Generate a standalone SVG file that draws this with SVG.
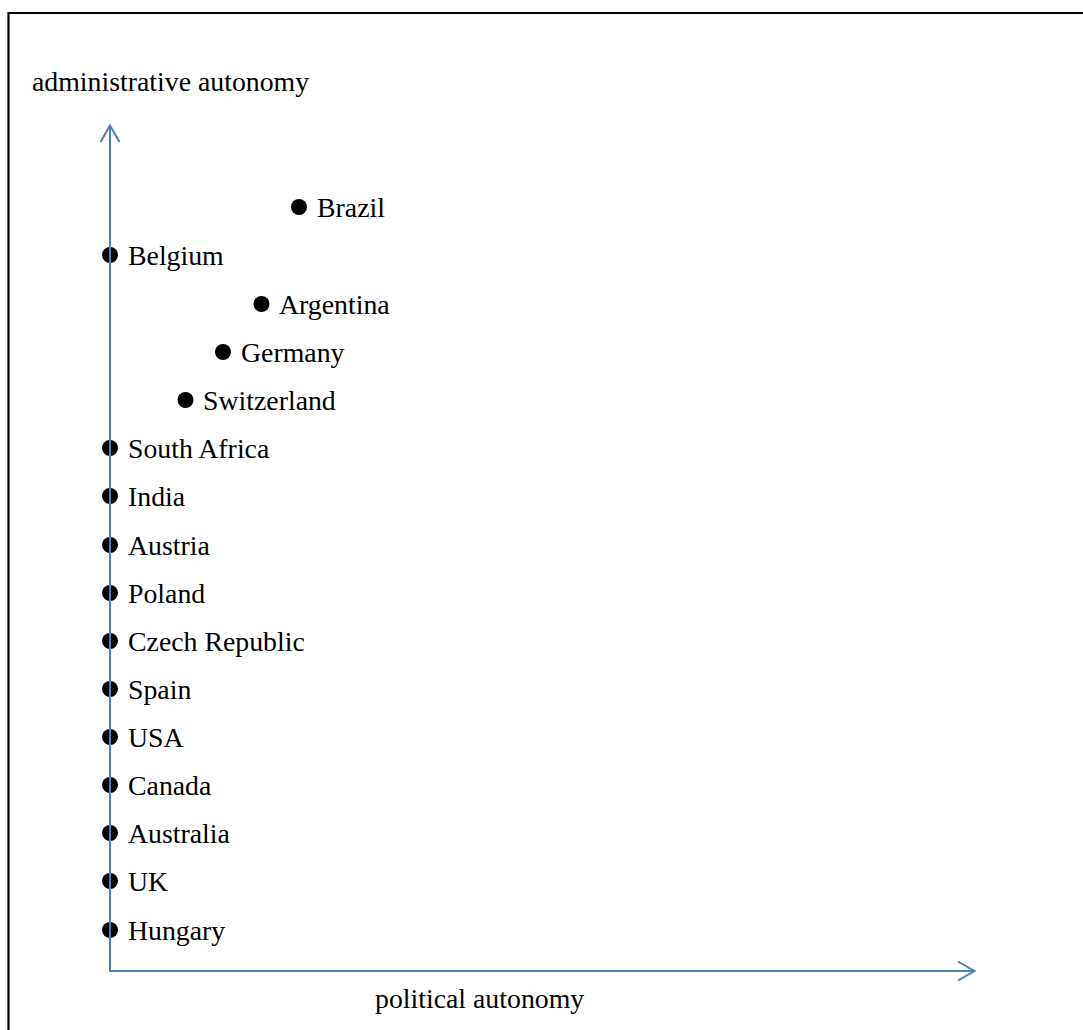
<svg xmlns="http://www.w3.org/2000/svg" width="1083" height="1030" viewBox="0 0 1083 1030">
<style>
text{font-family:"Liberation Serif","Times New Roman",serif;font-size:27.8px;fill:#000}
.dot{fill:#000}
.axis{stroke:#4a7ebb;stroke-width:2;fill:none}
</style>
<rect width="1083" height="1030" fill="#fff"/>
<path d="M8.5,1032 V13 H1086" fill="none" stroke="#000" stroke-width="2.2"/>
<text x="32" y="91">administrative autonomy</text>
<text x="375" y="1008">political autonomy</text>
<g id="brazil"><circle class="dot" cx="299" cy="207" r="8"/><text x="317" y="217">Brazil</text></g>
<g id="belgium"><circle class="dot" cx="110" cy="255" r="8"/><text x="128" y="265">Belgium</text></g>
<g id="argentina"><circle class="dot" cx="261.5" cy="304" r="8"/><text x="279" y="314">Argentina</text></g>
<g id="germany"><circle class="dot" cx="223" cy="352" r="8"/><text x="241" y="362">Germany</text></g>
<g id="switzerland"><circle class="dot" cx="185.5" cy="400" r="8"/><text x="203" y="410">Switzerland</text></g>
<g id="south-africa"><circle class="dot" cx="110" cy="448" r="8"/><text x="128" y="458">South Africa</text></g>
<g id="india"><circle class="dot" cx="110" cy="496" r="8"/><text x="128" y="506">India</text></g>
<g id="austria"><circle class="dot" cx="110" cy="545" r="8"/><text x="128" y="555">Austria</text></g>
<g id="poland"><circle class="dot" cx="110" cy="593" r="8"/><text x="128" y="603">Poland</text></g>
<g id="czech-republic"><circle class="dot" cx="110" cy="641" r="8"/><text x="128" y="651">Czech Republic</text></g>
<g id="spain"><circle class="dot" cx="110" cy="689" r="8"/><text x="128" y="699">Spain</text></g>
<g id="usa"><circle class="dot" cx="110" cy="737" r="8"/><text x="128" y="747">USA</text></g>
<g id="canada"><circle class="dot" cx="110" cy="785" r="8"/><text x="128" y="795">Canada</text></g>
<g id="australia"><circle class="dot" cx="110" cy="833" r="8"/><text x="128" y="843">Australia</text></g>
<g id="uk"><circle class="dot" cx="110" cy="881" r="8"/><text x="128" y="891">UK</text></g>
<g id="hungary"><circle class="dot" cx="110" cy="930" r="8"/><text x="128" y="940">Hungary</text></g>
<g id="connectors">
<path class="axis" d="M110,971 V126 M100.5,142 L110,125.5 L119.5,142"/>
<path class="axis" d="M109,971 H974 M958,961.5 L974.5,971 L958,980.5"/>
</g>
</svg>
